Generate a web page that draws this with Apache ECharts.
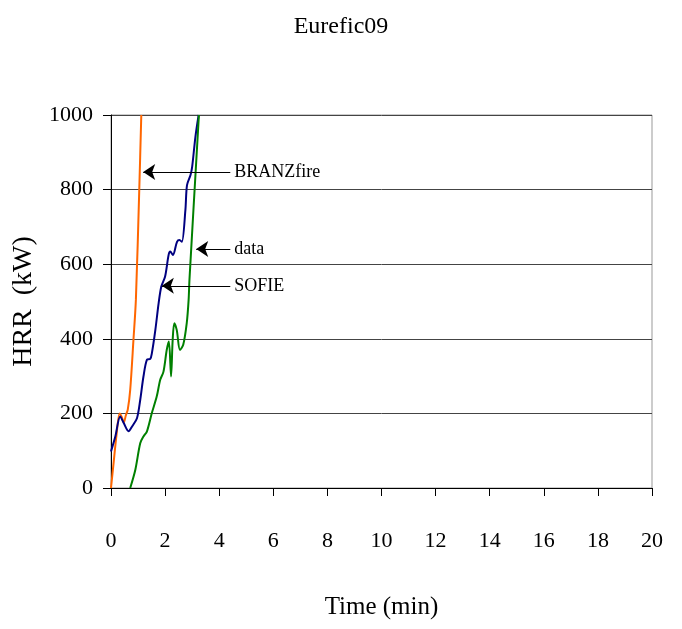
<!DOCTYPE html>
<html>
<head>
<meta charset="utf-8">
<script src="https://cdn.jsdelivr.net/npm/echarts@6/dist/echarts.min.js"></script>
<style>
  html, body { margin: 0; padding: 0; background: #fff; }
  #chart { width: 682px; height: 629px; }
</style>
</head>
<body>
<div id="chart"></div>
<script>
// Heat release rate curves, Eurefic test 09
const xTicks = [0, 2, 4, 6, 8, 10, 12, 14, 16, 18, 20];
const yTicks = [0, 200, 400, 600, 800, 1000];

const branzTime = [0, 0.1, 0.2, 0.32, 0.4, 0.47, 0.55, 0.62, 0.71, 0.83, 0.92, 1.045, 1.12];
const branzHrr  = [0, 70, 140, 200, 190, 175, 195, 210, 263, 397, 505, 800, 1000];

const sofieTime = [0, 0.16, 0.34, 0.47, 0.65, 0.78, 0.96, 1.08, 1.2, 1.33, 1.45, 1.51, 1.64, 1.76, 1.86, 2.0, 2.13, 2.19, 2.29, 2.44, 2.53, 2.62, 2.75, 2.81, 2.94, 3.0, 3.12, 3.24];
const sofieHrr  = [98, 138, 192, 174, 152, 165, 187, 236, 299, 344, 346, 361, 424, 495, 540, 567, 625, 634, 625, 660, 665, 660, 745, 812, 839, 861, 941, 1000];

const dataTime = [0.71, 0.9, 1.08, 1.2, 1.33, 1.51, 1.69, 1.82, 1.94, 2.06, 2.14, 2.22, 2.28, 2.34, 2.43, 2.55, 2.67, 2.8, 2.87, 2.9, 3.25];
const dataHrr  = [0, 49, 120, 138, 152, 201, 245, 290, 312, 370, 393, 299, 397, 442, 424, 370, 384, 442, 505, 558, 1000];

// Annotation arrows: label, tail [time, HRR], head [time, HRR]
const arrowLabels = ['BRANZfire', 'data', 'SOFIE'];
const arrowTails  = [[4.41, 847], [4.41, 641], [4.41, 542]];
const arrowHeads  = [[1.19, 847], [3.15, 641], [1.88, 542]];

const pairs = (xs, ys) => xs.map((x, i) => [x, ys[i]]);
const FONT = '"Liberation Serif", "DejaVu Serif", serif';

const chart = echarts.init(document.getElementById('chart'), null, { renderer: 'canvas' });

const lineSeries = (name, xs, ys, color) => ({
  name: name,
  type: 'line',
  data: pairs(xs, ys),
  showSymbol: false,
  smooth: 0.3,
  lineStyle: { color: color, width: 2 },
  itemStyle: { color: color },
  z: 3
});

chart.setOption({
  animation: false,
  backgroundColor: '#fff',
  title: {
    text: 'Eurefic09',
    left: 'center',
    top: 10,
    textStyle: { fontFamily: FONT, fontSize: 24, fontWeight: 'normal', color: '#000' }
  },
  grid: {
    left: 111, right: 30, top: 115, bottom: 141,
    show: true, borderColor: '#999', borderWidth: 1, backgroundColor: 'transparent'
  },
  xAxis: {
    type: 'value',
    min: 0, max: 20, interval: 2,
    name: 'Time (min)',
    nameLocation: 'middle',
    nameGap: 107,
    nameTextStyle: { fontFamily: FONT, fontSize: 25, color: '#000' },
    axisLine: { show: true, lineStyle: { color: '#000', width: 1 } },
    axisTick: { show: true, inside: false, length: 8, lineStyle: { color: '#000' } },
    axisLabel: {
      margin: 42, fontFamily: FONT, fontSize: 22, color: '#000',
      customValues: xTicks,
      formatter: v => String(v)
    },
    splitLine: { show: false }
  },
  yAxis: {
    type: 'value',
    min: 0, max: 1000, interval: 200,
    name: 'HRR  (kW)',
    nameLocation: 'middle',
    nameGap: 64,
    nameTextStyle: { fontFamily: FONT, fontSize: 28, color: '#000' },
    axisLine: { show: true, lineStyle: { color: '#000', width: 1 } },
    axisTick: { show: true, inside: false, length: 8, lineStyle: { color: '#000' } },
    axisLabel: {
      margin: 18, fontFamily: FONT, fontSize: 22, color: '#000',
      customValues: yTicks,
      formatter: v => String(v)
    },
    splitLine: { show: true, lineStyle: { color: '#444', width: 1 } }
  },
  series: [
    lineSeries('BRANZfire', branzTime, branzHrr, '#FF6600'),
    lineSeries('SOFIE', sofieTime, sofieHrr, '#000080'),
    lineSeries('data', dataTime, dataHrr, '#008000'),
    {
      name: 'annotations',
      type: 'line',
      data: [],
      z: 4,
      markLine: {
        silent: true,
        symbol: ['none', 'arrow'],
        symbolSize: 12,
        lineStyle: { color: '#000', width: 1, type: 'solid' },
        itemStyle: { color: '#000' },
        label: {
          show: true,
          position: 'start',
          distance: 4,
          formatter: '{b}',
          fontFamily: FONT,
          fontSize: 18,
          color: '#000'
        },
        data: arrowLabels.map((label, i) => [
          { name: label, coord: arrowTails[i] },
          { coord: arrowHeads[i] }
        ])
      }
    }
  ]
});
</script>
</body>
</html>
